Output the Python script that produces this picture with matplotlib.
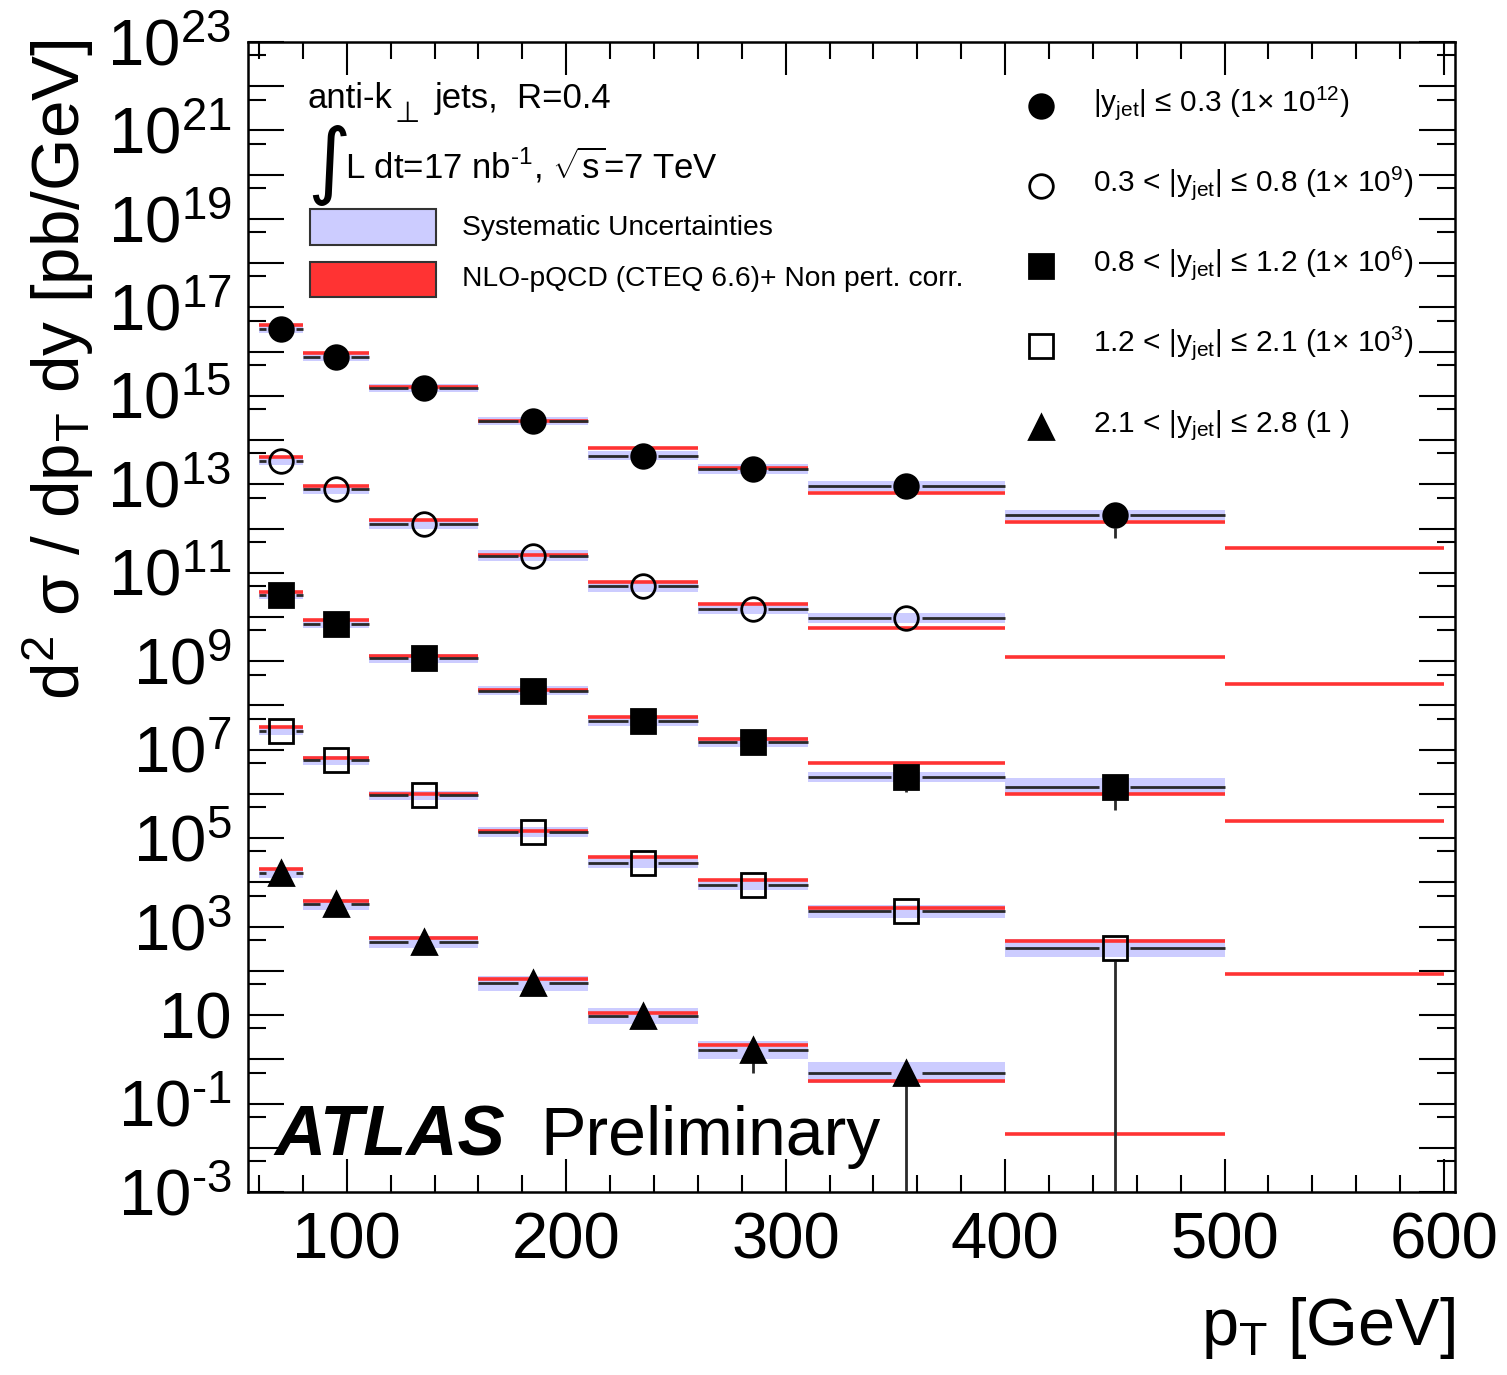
import numpy as np
import matplotlib
matplotlib.use("Agg")
import matplotlib.pyplot as plt
from matplotlib.ticker import FixedLocator, MultipleLocator, FuncFormatter, NullFormatter

plt.rcParams['font.family'] = ['Liberation Sans', 'DejaVu Sans']
plt.rcParams['mathtext.fontset'] = 'custom'
plt.rcParams['mathtext.rm'] = 'Liberation Sans'
plt.rcParams['mathtext.it'] = 'Liberation Sans:italic'
plt.rcParams['mathtext.bf'] = 'Liberation Sans:bold'
plt.rcParams['mathtext.default'] = 'regular'

# pT bins [GeV]
bin_lo = [60, 80, 110, 160, 210, 260, 310, 400, 500]
bin_hi = [80, 110, 160, 210, 260, 310, 400, 500, 600]

# measured cross sections [pb/GeV] (unscaled), NLO theory, stat (rel.), syst (rel.)
data_y03 = [3.3e4, 7.6e3, 1.5e3, 2.7e2, 44, 22, 9.1, 2.0]
theo_y03 = [4.1e4, 9.1e3, 1.55e3, 2.75e2, 66, 23, 6.2, 1.38, 0.355]
stat_y03 = [0.01, 0.02, 0.03, 0.06, 0.12, 0.2, 0.3, 0.7]
sys_y03 = [0.23, 0.23, 0.23, 0.26, 0.26, 0.29, 0.32, 0.30]

data_y08 = [3.4e4, 7.8e3, 1.26e3, 2.45e2, 49, 15.1, 9.3]
theo_y08 = [4.1e4, 9.3e3, 1.55e3, 2.57e2, 63, 19.5, 5.6, 1.23, 0.31]
stat_y08 = [0.01, 0.02, 0.03, 0.06, 0.12, 0.2, 0.3]
sys_y08 = [0.23, 0.26, 0.32, 0.32, 0.30, 0.30, 0.30]

data_y12 = [3.2e4, 6.9e3, 1.17e3, 2.14e2, 44, 15.1, 2.45, 1.45]
theo_y12 = [3.7e4, 8.5e3, 1.32e3, 2.19e2, 55, 17.4, 4.9, 1.0, 0.24]
stat_y12 = [0.01, 0.02, 0.04, 0.07, 0.14, 0.25, 0.55, 0.7]
sys_y12 = [0.23, 0.24, 0.26, 0.26, 0.29, 0.30, 0.30, 0.55]

data_y21 = [2.6e4, 5.8e3, 930, 135, 28, 8.9, 2.2, 0.33]
theo_y21 = [3.2e4, 6.6e3, 1.0e3, 148, 37, 11.5, 2.7, 0.47, 0.085]
stat_y21 = [0.01, 0.02, 0.03, 0.07, 0.14, 0.25, 0.4, 1.0]
sys_y21 = [0.24, 0.26, 0.26, 0.29, 0.32, 0.35, 0.38, 0.58]

data_y28 = [1.6e4, 3.2e3, 450, 52, 9.5, 1.66, 0.50]
theo_y28 = [2.0e4, 3.8e3, 550, 65, 11.0, 2.1, 0.32, 0.020]
stat_y28 = [0.02, 0.03, 0.06, 0.15, 0.35, 0.7, 1.0]
sys_y28 = [0.30, 0.35, 0.38, 0.45, 0.55, 0.60, 0.74]

scales = [1e12, 1e9, 1e6, 1e3, 1]
series_labels = [
    r'$|y_{jet}|$ ≤ 0.3 (1× 10$^{12}$)',
    r'0.3 < $|y_{jet}|$ ≤ 0.8 (1× 10$^{9}$)',
    r'0.8 < $|y_{jet}|$ ≤ 1.2 (1× 10$^{6}$)',
    r'1.2 < $|y_{jet}|$ ≤ 2.1 (1× 10$^{3}$)',
    r'2.1 < $|y_{jet}|$ ≤ 2.8 (1 )',
]
all_data = [data_y03, data_y08, data_y12, data_y21, data_y28]
all_theo = [theo_y03, theo_y08, theo_y12, theo_y21, theo_y28]
all_stat = [stat_y03, stat_y08, stat_y12, stat_y21, stat_y28]
all_sys = [sys_y03, sys_y08, sys_y12, sys_y21, sys_y28]
markers = ['o', 'o', 's', 's', '^']
msizes = [17, 17, 17, 17, 17]
filled = [True, False, True, False, True]

band_col = '#ccccff'
theo_col = '#ff3333'
line_col = '#2a2a2a'

fig = plt.figure(figsize=(15.07, 13.75), dpi=100)
ax = fig.add_axes([248 / 1507, 1 - 1192 / 1375, 1207 / 1507, 1150 / 1375])
ax.set_yscale('log')

lo = np.array(bin_lo, dtype=float)
hi = np.array(bin_hi, dtype=float)
xc = 0.5 * (lo + hi)
xgap = 7.0      # gap around marker for x-error lines [GeV]
ygap = 10 ** 0.29

for k in range(5):
    d = np.array(all_data[k]) * scales[k]
    t = np.array(all_theo[k]) * scales[k]
    st = np.array(all_stat[k])
    sy = np.array(all_sys[k])
    n = len(d)
    nt = len(t)
    for i in range(n):
        ax.fill_between([lo[i], hi[i]], d[i] / (1 + sy[i]), d[i] * (1 + sy[i]),
                        color=band_col, lw=0, zorder=1)
    ax.hlines(t, lo[:nt], hi[:nt], color=theo_col, lw=2.6, zorder=2)
    ax.hlines(d, lo[:n], xc[:n] - xgap, color=line_col, lw=2.0, zorder=3)
    ax.hlines(d, xc[:n] + xgap, hi[:n], color=line_col, lw=2.0, zorder=3)
    dlow = np.maximum(d * (1 - st), 1e-8)
    top = d / ygap
    m = dlow < top
    if m.any():
        ax.vlines(xc[:n][m], dlow[m], top[m], color=line_col, lw=2.0, zorder=3)
    ax.plot(xc[:n], d, ls='none', marker=markers[k], ms=msizes[k],
            mfc='k' if filled[k] else 'none', mec='k', mew=2.0, zorder=4)

ax.set_xlim(55, 605)
ax.set_ylim(1e-3, 1e23)

ax.xaxis.set_major_locator(MultipleLocator(100))
ax.xaxis.set_minor_locator(MultipleLocator(20))
ax.yaxis.set_major_locator(FixedLocator(10.0 ** np.arange(-3, 24)))
ax.yaxis.set_minor_locator(FixedLocator(5 * 10.0 ** np.arange(-3, 23)))


def ylab(v, pos):
    e = int(round(np.log10(v)))
    if e % 2 == 0:
        return ''
    if e == 1:
        return '10'
    if e < 0:
        return r'$10^{\text{-}%d}$' % (-e)
    return r'$10^{%d}$' % e


ax.yaxis.set_major_formatter(FuncFormatter(ylab))
ax.yaxis.set_minor_formatter(NullFormatter())

ax.tick_params(axis='both', which='both', direction='in', top=True, right=True, width=1.5)
ax.tick_params(axis='y', which='major', length=26, labelsize=47, pad=12)
ax.tick_params(axis='y', which='minor', length=13)
ax.tick_params(axis='x', which='major', length=24, labelsize=47, pad=14)
ax.tick_params(axis='x', which='minor', length=12)
for sp in ax.spines.values():
    sp.set_linewidth(1.8)

fig.text(1455 / 1507, 1 - 1345 / 1375, r'p$_{T}$ [GeV]', ha='right', va='baseline', fontsize=48)
fig.text(58 / 1507, 1 - 40 / 1375, r'd$^{2}$ σ / dp$_{T}$ dy [pb/GeV]',
         rotation=90, ha='center', va='top', fontsize=48.5)

# upper-left info
tr = ax.transAxes
ax.text(0.049, 0.9426, 'anti-k', transform=tr, fontsize=25, va='baseline')
ax.text(0.1215, 0.9304, '⊥', transform=tr, fontsize=21, va='baseline',
        family=['DejaVu Sans'])
ax.text(0.155, 0.9426, 'jets,  R=0.4', transform=tr, fontsize=25, va='baseline')
ax.text(0.049, 0.893, '∫', transform=tr, fontsize=60, va='center', ha='left',
        family=['DejaVu Sans'])
ax.text(0.0804, 0.8817, r'L dt=17 nb$^{\text{-}1}$, $\sqrt{s}$=7 TeV', transform=tr,
        fontsize=25, va='baseline')

ax.add_patch(plt.Rectangle((0.0514, 0.8235), 0.1044, 0.0313, transform=tr,
                           facecolor=band_col, edgecolor='#333333', lw=1.5, zorder=5))
ax.add_patch(plt.Rectangle((0.0514, 0.7783), 0.1044, 0.0304, transform=tr,
                           facecolor=theo_col, edgecolor='#333333', lw=1.5, zorder=5))
ax.text(0.1773, 0.8383, 'Systematic Uncertainties', transform=tr, fontsize=20.3, va='center')
ax.text(0.1773, 0.7939, 'NLO-pQCD (CTEQ 6.6)+ Non pert. corr.', transform=tr, fontsize=20.3,
        va='center')

# marker legend
leg_y = [0.944, 0.875, 0.805, 0.7357, 0.665]
for k in range(5):
    ax.plot([0.657], [leg_y[k]], transform=tr, ls='none', marker=markers[k], ms=msizes[k],
            mfc='k' if filled[k] else 'none', mec='k', mew=2.0, clip_on=False, zorder=5)
    ax.text(0.700, leg_y[k] - 5 / 1150, series_labels[k], transform=tr, fontsize=21.5,
            va='baseline')

ax.text(0.022, 0.032, 'ATLAS', transform=tr, fontsize=51, fontweight='bold', fontstyle='italic',
        va='baseline', zorder=6)
ax.text(0.2419, 0.032, 'Preliminary', transform=tr, fontsize=49, va='baseline', zorder=6)

fig.savefig('out.png', dpi=100)
